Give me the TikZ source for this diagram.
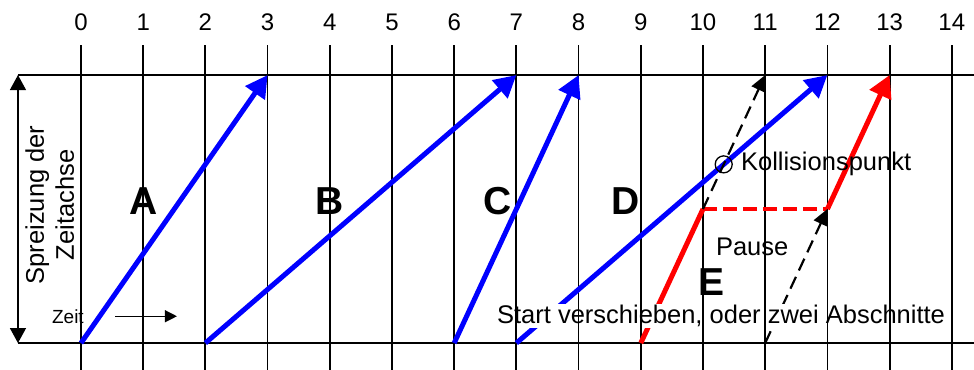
\documentclass[tikz,border=0pt]{standalone}
\usepackage{fontspec}
\setmainfont{Liberation Sans}
\usetikzlibrary{arrows.meta,positioning}

\begin{document}
\begin{tikzpicture}[x=62.2pt,y=268pt,
  grid/.style={line width=1.8pt},
  run/.style={line width=5pt,-{Triangle[length=22pt,width=23pt]}},
  bluerun/.style={run,draw=blue,color=blue},
  redrun/.style={run,draw=red,color=red},
  pauseline/.style={draw=red,line width=3.8pt,dash pattern=on 14pt off 6pt},
  moved/.style={line width=2.2pt,dash pattern=on 13pt off 7pt,-{Triangle[length=16pt,width=15pt]}},
  num/.style={font=\fontsize{24}{28}\selectfont},
  txt/.style={font=\fontsize{25.5}{30}\selectfont,inner sep=1pt},
  big/.style={font=\fontsize{39}{40}\selectfont\bfseries}
]
  \useasboundingbox (-1.302,-0.097) rectangle (14.357,1.28);

  % time scale and grid
  \foreach \i in {0,...,14} {
    \node[num] (n\i) at (\i,1.198) {\i};
    \draw[grid] (\i,1.112) -- (\i,-0.1);
    \coordinate (b\i) at (\i,0);
    \coordinate (m\i) at (\i,0.5);
    \coordinate (t\i) at (\i,1);
  }
  \draw[grid] (-1.013,0) -- (14.5,0);
  \draw[grid] (-1.013,1) -- (14.5,1);

  % spread of the time axis
  \coordinate (sb) at (-1.013,0);
  \coordinate (st) at (-1.013,1);
  \draw[line width=1.4pt,{Triangle[length=15pt,width=16pt]}-{Triangle[length=15pt,width=16pt]}] (sb) -- (st);
  \node[txt,rotate=90,align=center] (spread) at (-0.5,0.515) {Spreizung der\\Zeitachse};

  \node[font=\fontsize{19}{22}\selectfont,inner sep=1pt] (zeit) at (-0.21,0.10) {Zeit};
  \coordinate (z0) at (0.547,0.10);
  \coordinate (z1) at (1.543,0.10);
  \draw[line width=1.2pt,-{Triangle[length=12pt,width=12pt]}] (z0) -- (z1);

  % runs
  \draw[bluerun] (b0) -- (t3);
  \draw[bluerun] (b2) -- (t7);
  \draw[bluerun] (b6) -- (t8);
  \draw[bluerun] (b7) -- (t12);
  \draw[red,line width=5pt] (b9) -- (m10);
  \draw[pauseline] (m10) -- (m12);
  \draw[redrun] (m12) -- (t13);

  % shifted variants
  \draw[moved] (m10) -- (t11);
  \draw[moved] (b11) -- (m12);

  \node[big] (la) at (1.0,0.53) {A};
  \node[big] (lb) at (3.99,0.53) {B};
  \node[big] (lc) at (6.69,0.53) {C};
  \node[big] (ld) at (8.75,0.53) {D};
  \node[big] (le) at (10.14,0.228) {E};

  \node[circle,draw,line width=1.3pt,minimum size=17pt,inner sep=0pt] (hit) at (10.333,0.6667) {};
  \node[txt,right=7pt of hit] (hitlbl) {Kollisionspunkt};
  \node[txt,anchor=west] (pause) at (10.19,0.36) {Pause};

  \node[txt,fill=white] (shift) at (10.29,0.10) {Start verschieben, oder zwei Abschnitte};
  % grid stays visible through the text
  \begin{scope}
    \clip (shift.south west) rectangle (shift.north east);
    \foreach \i in {6,...,14} \draw[grid] (\i,0) -- (\i,0.3);
  \end{scope}
\end{tikzpicture}
\end{document}
